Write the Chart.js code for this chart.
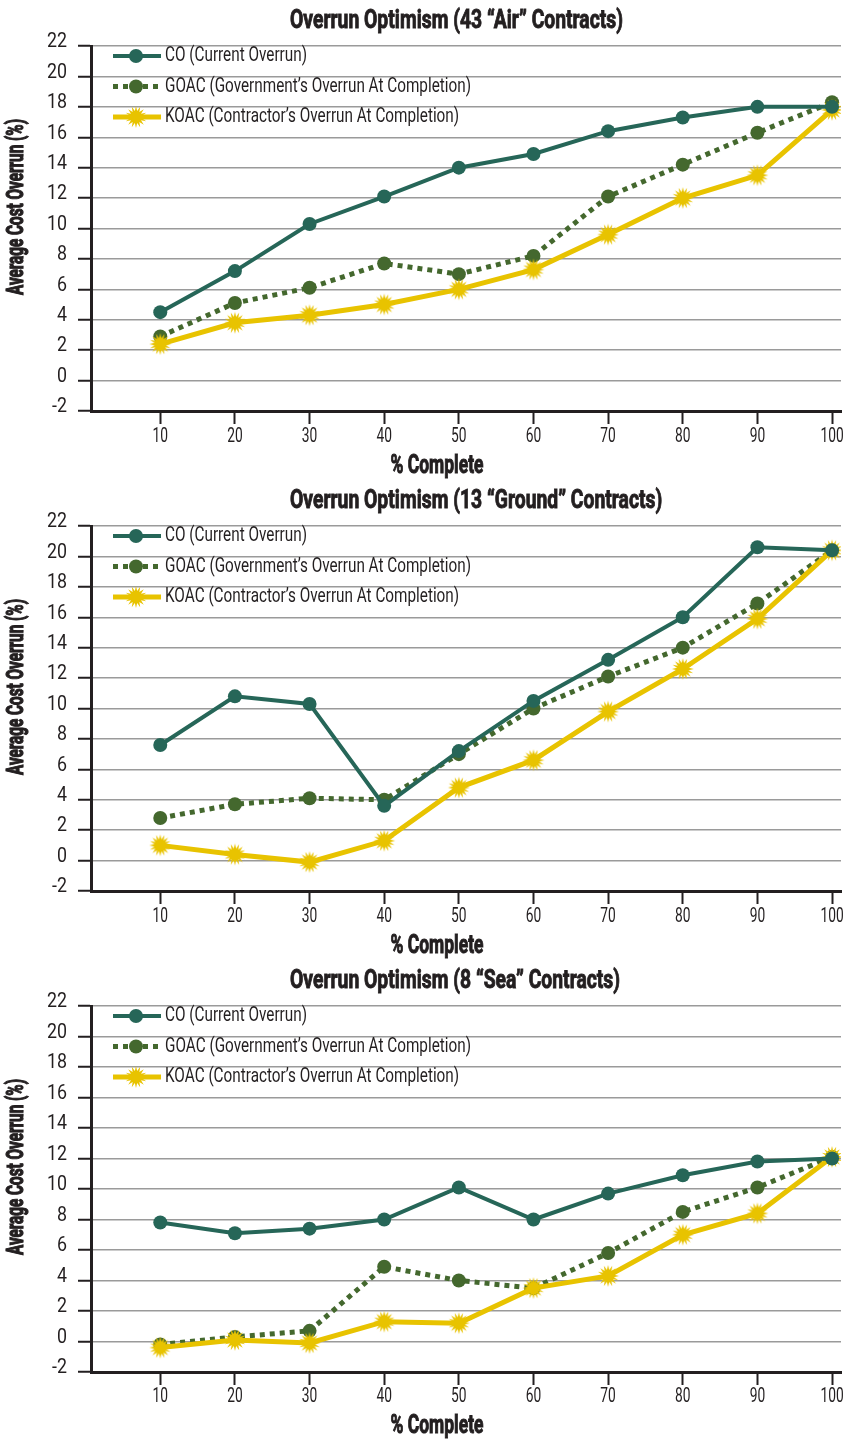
<!DOCTYPE html>
<html>
<head>
<meta charset="utf-8">
<script src="https://cdn.jsdelivr.net/npm/chart.js@4.4.1/dist/chart.umd.min.js"></script>
<style>
  html, body { margin: 0; padding: 0; background: #fff; }
  .panel { position: relative; width: 852px; height: 480px; }
  .panel.last { height: 481px; }
</style>
</head>
<body>
<div class="panel"><canvas id="grafikAir"></canvas></div>
<div class="panel"><canvas id="grafikGround"></canvas></div>
<div class="panel last"><canvas id="grafikSea"></canvas></div>
<script>
// 1. DATA
const persenSelesai = [10, 20, 30, 40, 50, 60, 70, 80, 90, 100];

const airCO   = [4.5, 7.2, 10.3, 12.1, 14.0, 14.9, 16.4, 17.3, 18.0, 18.0];
const airGOAC = [2.9, 5.1, 6.1, 7.7, 7.0, 8.2, 12.1, 14.2, 16.3, 18.3];
const airKOAC = [2.4, 3.8, 4.3, 5.0, 6.0, 7.3, 9.6, 12.0, 13.5, 17.8];

const groundCO   = [7.6, 10.8, 10.3, 3.6, 7.2, 10.5, 13.2, 16.0, 20.6, 20.4];
const groundGOAC = [2.8, 3.7, 4.1, 4.0, 7.0, 10.0, 12.1, 14.0, 16.9, 20.4];
const groundKOAC = [1.0, 0.4, -0.1, 1.3, 4.8, 6.6, 9.8, 12.6, 15.9, 20.4];

const seaCO   = [7.8, 7.1, 7.4, 8.0, 10.1, 8.0, 9.7, 10.9, 11.8, 12.0];
const seaGOAC = [-0.2, 0.3, 0.7, 4.9, 4.0, 3.5, 5.8, 8.5, 10.1, 12.1];
const seaKOAC = [-0.4, 0.1, -0.1, 1.3, 1.2, 3.5, 4.3, 7.0, 8.4, 12.1];

const labelSeri = [
    'CO (Current Overrun)',
    'GOAC (Government\u2019s Overrun At Completion)',
    'KOAC (Contractor\u2019s Overrun At Completion)'
];

// 2. GAYA
const HURUF = "Roboto, 'Liberation Sans', sans-serif";
const TEKS = '#231f20';
const WARNA_CO = '#266658';
const WARNA_GOAC = '#44682e';
const WARNA_KOAC = '#e8c300';

// font referensi sangat sempit: tiap jenis teks dipadatkan sampai lebar contoh yang diukur dari gambar
const gayaTeks = {
    judul:   { font: `bold 26px ${HURUF}`, contoh: 'Overrun Optimism (43 \u201cAir\u201d Contracts)', lebar: 333, tebal: 0.7 },
    legenda: { font: `21px ${HURUF}`, contoh: labelSeri[1], lebar: 306, tebal: 0 },
    sumbuX:  { font: `bold 25px ${HURUF}`, contoh: '% Complete', lebar: 93, tebal: 0.7 },
    sumbuY:  { font: `bold 23px ${HURUF}`, contoh: 'Average Cost Overrun (%)', lebar: 176, tebal: 0.8 },
    tickY:   { font: `21px ${HURUF}`, contoh: '20', lebar: 20, tebal: 0 },
    tickX:   { font: `21px ${HURUF}`, contoh: '20', lebar: 15.5, tebal: 0 }
};

function buatBintang() {
    const r = 11;
    const c = document.createElement('canvas');
    c.width = c.height = 2 * r + 2;
    const g = c.getContext('2d');
    g.fillStyle = WARNA_KOAC;
    g.beginPath();
    const n = 16;
    for (let k = 0; k < 2 * n; k++) {
        const rad = k % 2 ? r * 0.55 : r;
        const a = k * Math.PI / n;
        g.lineTo(r + 1 + rad * Math.cos(a), r + 1 + rad * Math.sin(a));
    }
    g.closePath();
    g.fill();
    return c;
}
const bintang = buatBintang();

function tulis(ctx, jenis, teks, x, y, rata, sudut) {
    const g = gayaTeks[jenis];
    ctx.save();
    ctx.font = g.font;
    const skala = g.lebar / ctx.measureText(g.contoh).width;
    ctx.translate(x, y);
    if (sudut) ctx.rotate(sudut);
    ctx.scale(skala, 1);
    ctx.fillStyle = TEKS;
    ctx.textAlign = rata;
    ctx.textBaseline = 'middle';
    ctx.fillText(teks, 0, 0);
    if (g.tebal) {
        // tebalkan huruf tebal yang jadi tipis karena dipadatkan
        ctx.strokeStyle = TEKS;
        ctx.lineWidth = g.tebal / skala;
        ctx.strokeText(teks, 0, 0);
    }
    ctx.restore();
}

// judul, label sumbu, legenda di dalam area grafik
const hiasan = {
    id: 'hiasan',
    afterDraw(chart) {
        const ctx = chart.ctx;
        const area = chart.chartArea;
        const sx = chart.scales.x, sy = chart.scales.y;

        tulis(ctx, 'judul', chart.options.plugins.hiasan.judul, 290, 21, 'left');
        tulis(ctx, 'sumbuX', '% Complete', 437, 467, 'center');
        tulis(ctx, 'sumbuY', 'Average Cost Overrun (%)', 17, area.top + 161, 'center', -Math.PI / 2);

        sy.ticks.forEach(t => tulis(ctx, 'tickY', String(t.value), 67, sy.getPixelForValue(t.value) - 4, 'right'));
        sx.ticks.forEach(t => tulis(ctx, 'tickX', String(t.value), sx.getPixelForValue(t.value), 437, 'center'));

        ctx.save();
        chart.data.datasets.forEach((ds, i) => {
            const y = area.top + 10 + i * 30.5;
            const x0 = area.left + 22;
            ctx.strokeStyle = ds.borderColor;
            ctx.lineWidth = ds.borderWidth;
            ctx.setLineDash(ds.borderDash || []);
            ctx.beginPath();
            ctx.moveTo(x0, y);
            ctx.lineTo(x0 + 48, y);
            ctx.stroke();
            ctx.setLineDash([]);
            if (ds.pointStyle === 'circle') {
                ctx.fillStyle = ds.pointBackgroundColor;
                ctx.beginPath();
                ctx.arc(x0 + 23, y, ds.pointRadius, 0, Math.PI * 2);
                ctx.fill();
            } else {
                ctx.drawImage(ds.pointStyle, x0 + 23 - ds.pointStyle.width / 2, y - ds.pointStyle.height / 2);
            }
            tulis(ctx, 'legenda', ds.label, x0 + 52, y, 'left');
        });
        ctx.restore();
    }
};

function titik(nilai) {
    return persenSelesai.map((p, i) => ({ x: p, y: nilai[i] }));
}

function buatGrafik(idCanvas, judul, co, goac, koac) {
    const canvas = document.getElementById(idCanvas);
    return new Chart(canvas.getContext('2d'), {
        type: 'line',
        data: {
            datasets: [
                { label: labelSeri[0], data: titik(co), borderColor: WARNA_CO, backgroundColor: WARNA_CO,
                  pointBackgroundColor: WARNA_CO, pointBorderWidth: 0, borderWidth: 4, pointRadius: 7,
                  pointStyle: 'circle', order: 0 },
                { label: labelSeri[1], data: titik(goac), borderColor: WARNA_GOAC, backgroundColor: WARNA_GOAC,
                  pointBackgroundColor: WARNA_GOAC, pointBorderWidth: 0, borderWidth: 5, borderDash: [5, 5],
                  borderCapStyle: 'butt', pointRadius: 7, pointStyle: 'circle', order: 2 },
                { label: labelSeri[2], data: titik(koac), borderColor: WARNA_KOAC, backgroundColor: WARNA_KOAC,
                  pointBackgroundColor: WARNA_KOAC, pointBorderWidth: 0, borderWidth: 5, pointRadius: 11,
                  pointStyle: bintang, order: 1 }
            ]
        },
        options: {
            responsive: true,
            maintainAspectRatio: false,
            animation: false,
            layout: { padding: { top: 46, right: 6, left: 0, bottom: 0 } },
            plugins: {
                legend: { display: false },
                tooltip: { enabled: false },
                hiasan: { judul: judul }
            },
            scales: {
                x: {
                    type: 'linear', min: 0.72, max: 101.2,
                    afterBuildTicks: s => { s.ticks = persenSelesai.map(v => ({ value: v })); },
                    afterFit: s => { s.height = 69; },
                    ticks: { display: false },
                    grid: { drawOnChartArea: false, tickColor: TEKS, tickLength: 13, tickWidth: 2 },
                    border: { color: TEKS, width: 3 }
                },
                y: {
                    min: -2, max: 22,
                    afterFit: s => { s.width = 91; },
                    ticks: { stepSize: 2, display: false },
                    grid: { color: '#9a9a9a', lineWidth: 1.5, tickColor: TEKS, tickLength: 13, tickWidth: 2 },
                    border: { color: TEKS, width: 3 }
                }
            }
        },
        plugins: [hiasan]
    });
}

// 3. INISIALISASI
buatGrafik('grafikAir', 'Overrun Optimism (43 \u201cAir\u201d Contracts)', airCO, airGOAC, airKOAC);
buatGrafik('grafikGround', 'Overrun Optimism (13 \u201cGround\u201d Contracts)', groundCO, groundGOAC, groundKOAC);
buatGrafik('grafikSea', 'Overrun Optimism (8 \u201cSea\u201d Contracts)', seaCO, seaGOAC, seaKOAC);
</script>
</body>
</html>
